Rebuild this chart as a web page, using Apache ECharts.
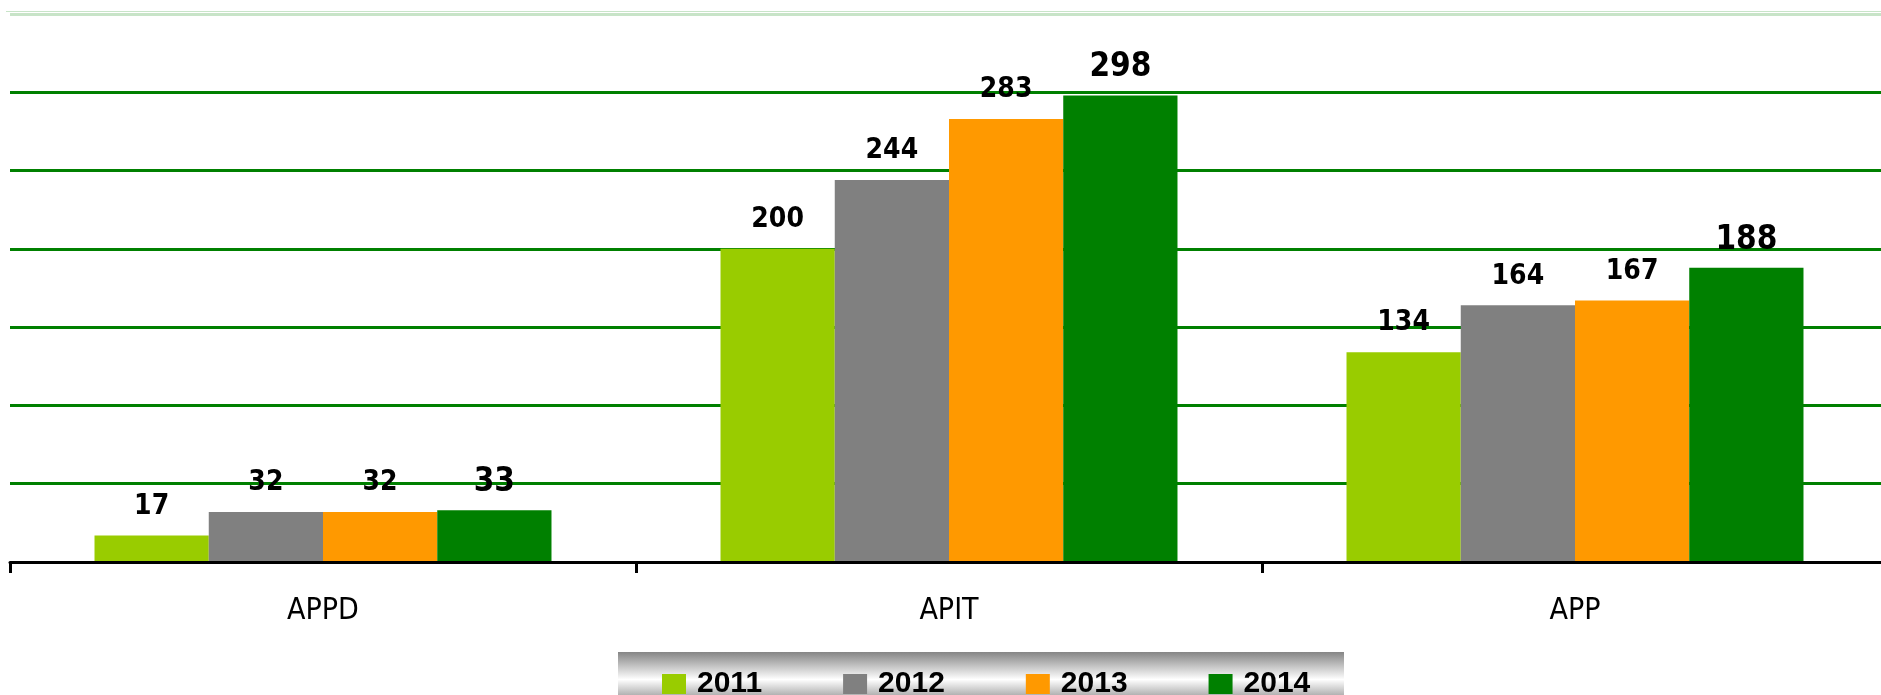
<!DOCTYPE html>
<html>
<head>
<meta charset="utf-8">
<script src="https://cdn.jsdelivr.net/npm/echarts@6/dist/echarts.min.js"></script>
<style>
  html, body { margin: 0; padding: 0; background: #fff; }
  #main { width: 1881px; height: 695px; }
</style>
</head>
<body>
<div id="main"></div>
<script>
var categories = ["APPD", "APIT", "APP"];
var years = ["2011", "2012", "2013", "2014"];
var values2011 = [17, 200, 134];
var values2012 = [32, 244, 164];
var values2013 = [32, 283, 167];
var values2014 = [33, 298, 188];
var yTicks = [0, 50, 100, 150, 200, 250, 300, 350];

var colors = ["#99cc00", "#808080", "#ff9900", "#008000"];
var narrow = "'Liberation Sans Narrow', 'DejaVu Sans Condensed', sans-serif";

var chartDom = document.getElementById("main");
var myChart = echarts.init(chartDom);

function barSeries(name, data, color, big) {
  return {
    name: name,
    type: "bar",
    data: data,
    barGap: "0%",
    barCategoryGap: "27%",
    itemStyle: { color: color },
    label: {
      show: true,
      position: "top",
      distance: big ? 11 : 15,
      color: "#000",
      fontFamily: narrow,
      fontWeight: "bold",
      fontSize: big ? 33 : 28
    }
  };
}

var option = {
  animation: false,
  backgroundColor: "#fff",
  color: colors,
  grid: { left: 10, right: -7, top: 14, bottom: 133, outerBoundsMode: "none", containLabel: false },
  graphic: [
    {
      type: "rect",
      z: -1,
      shape: { x: 618, y: 652, width: 726, height: 50 },
      style: {
        fill: new echarts.graphic.LinearGradient(0, 0, 0, 1, [
          { offset: 0, color: "#858585" },
          { offset: 0.55, color: "#ffffff" },
          { offset: 1, color: "#8f8f8f" }
        ])
      }
    },
    {
      // second thin line of the doubled top border
      type: "rect",
      shape: { x: 6, y: 11, width: 1875, height: 1 },
      style: { fill: "#c8e4c8" }
    }
  ],
  legend: {
    data: years,
    left: 662,
    top: 669,
    padding: 0,
    icon: "rect",
    itemWidth: 24,
    itemHeight: 20,
    itemGap: 81,
    textStyle: {
      color: "#000",
      fontFamily: "'Liberation Sans', Arial, sans-serif",
      fontWeight: "bold",
      fontSize: 30,
      padding: [0, 0, 0, 6]
    }
  },
  xAxis: {
    type: "category",
    data: categories,
    axisLine: { lineStyle: { color: "#000", width: 3 } },
    axisTick: { show: true, length: 11, lineStyle: { color: "#000", width: 3 } },
    axisLabel: {
      margin: 34,
      color: "#000",
      fontFamily: narrow,
      fontSize: 30
    },
    z: 5
  },
  yAxis: {
    type: "value",
    min: yTicks[0],
    max: yTicks[yTicks.length - 1],
    interval: yTicks[1] - yTicks[0],
    axisLine: { show: false },
    axisTick: { show: false },
    axisLabel: { show: false },
    splitLine: {
      lineStyle: {
        width: 3,
        color: ["#008000", "#008000", "#008000", "#008000", "#008000", "#008000", "#008000", "#c8e4c8"]
      }
    }
  },
  series: [
    barSeries(years[0], values2011, colors[0], false),
    barSeries(years[1], values2012, colors[1], false),
    barSeries(years[2], values2013, colors[2], false),
    barSeries(years[3], values2014, colors[3], true)
  ]
};

option && myChart.setOption(option);
</script>
</body>
</html>
